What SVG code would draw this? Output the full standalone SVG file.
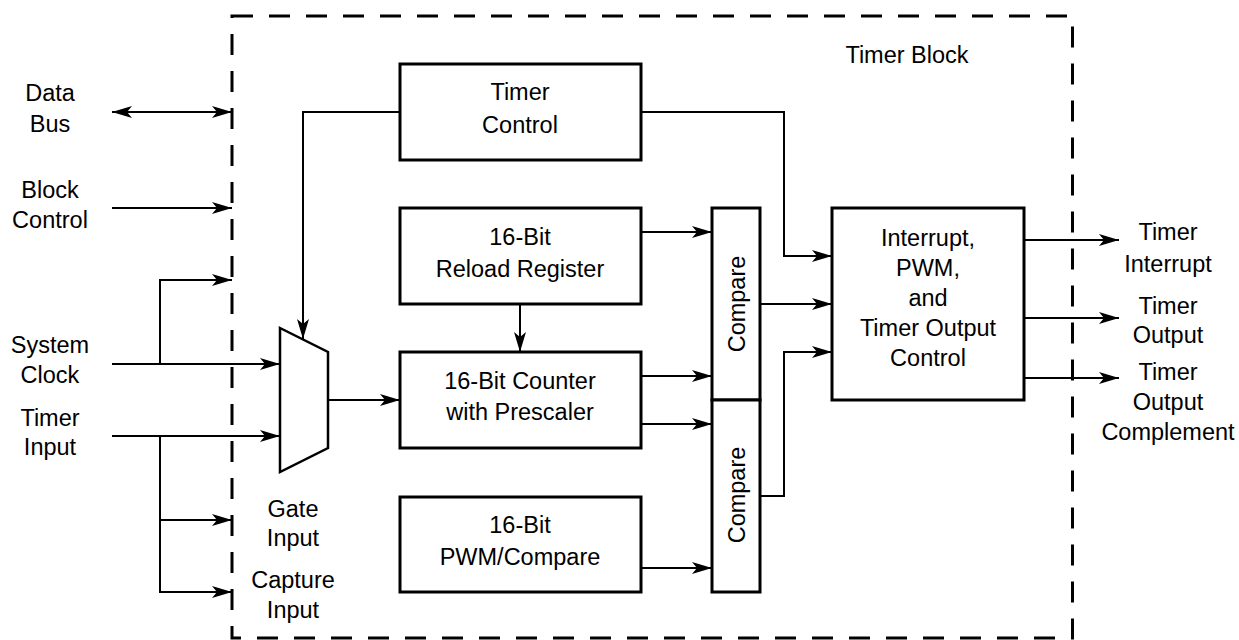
<svg xmlns="http://www.w3.org/2000/svg" width="1239" height="640" viewBox="0 0 1239 640">
<style>
  text { font-family: "Liberation Sans", Arial, sans-serif; font-size: 23.5px; fill: #000; text-anchor: middle; }
  .box { fill: #fff; stroke: #000; stroke-width: 3; }
  .mux { fill: #fff; stroke: #000; stroke-width: 2.5; stroke-linejoin: miter; }
  .conn path { fill: none; stroke: #000; stroke-width: 2; }
  .arr { marker-end: url(#ah); }
  .frame { fill: none; stroke: #000; stroke-width: 3; stroke-dasharray: 21 16; }
</style>
<defs>
  <marker id="ah" viewBox="0 0 20 12" refX="20" refY="6" markerWidth="20" markerHeight="12" markerUnits="userSpaceOnUse" orient="auto-start-reverse">
    <path d="M0,0 L20,6 L0,12 L5,6 z" fill="#000"/>
  </marker>
</defs>
<rect width="1239" height="640" fill="#fff"/>

<g id="timer-block">
  <rect class="frame" x="232" y="16" width="840.5" height="622"/>
  <text x="907" y="63">Timer Block</text>
</g>

<g id="ext-labels">
  <text x="50" y="101">Data</text>
  <text x="50" y="132">Bus</text>
  <text x="50" y="198">Block</text>
  <text x="50" y="228">Control</text>
  <text x="50" y="353">System</text>
  <text x="50" y="383">Clock</text>
  <text x="50" y="426">Timer</text>
  <text x="50" y="455">Input</text>
  <text x="293" y="517">Gate</text>
  <text x="293" y="546">Input</text>
  <text x="293" y="588">Capture</text>
  <text x="293" y="618">Input</text>
  <text x="1168" y="240">Timer</text>
  <text x="1168" y="272">Interrupt</text>
  <text x="1168" y="314">Timer</text>
  <text x="1168" y="343">Output</text>
  <text x="1168" y="380">Timer</text>
  <text x="1168" y="410">Output</text>
  <text x="1168" y="440">Complement</text>
</g>

<g id="timer-control">
  <rect class="box" x="400" y="64" width="241" height="96"/>
  <text x="520" y="100">Timer</text>
  <text x="520" y="133">Control</text>
</g>

<g id="reload-register">
  <rect class="box" x="400" y="208" width="241" height="96"/>
  <text x="520" y="245">16-Bit</text>
  <text x="520" y="277">Reload Register</text>
</g>

<g id="counter">
  <rect class="box" x="400" y="352" width="241" height="96"/>
  <text x="520" y="389">16-Bit Counter</text>
  <text x="520" y="420">with Prescaler</text>
</g>

<g id="pwm-compare">
  <rect class="box" x="400" y="497" width="241" height="95"/>
  <text x="520" y="533">16-Bit</text>
  <text x="520" y="565">PWM/Compare</text>
</g>

<g id="compare-upper">
  <rect class="box" x="712" y="208" width="48" height="192"/>
  <text transform="translate(745,304) rotate(-90)">Compare</text>
</g>

<g id="compare-lower">
  <rect class="box" x="712" y="400" width="48" height="192"/>
  <text transform="translate(745,495) rotate(-90)">Compare</text>
</g>

<g id="output-control">
  <rect class="box" x="832" y="208" width="192" height="192"/>
  <text x="928" y="246">Interrupt,</text>
  <text x="928" y="276">PWM,</text>
  <text x="928" y="306">and</text>
  <text x="928" y="336">Timer Output</text>
  <text x="928" y="366">Control</text>
</g>

<g id="mux">
  <polygon class="mux" points="280,328 328,352 328,448 280,472"/>
</g>

<g id="connectors" class="conn">
  <path d="M112,112 H232" marker-start="url(#ah)" marker-end="url(#ah)"/>
  <path class="arr" d="M112,208 H232"/>
  <path class="arr" d="M112,364 H280"/>
  <path class="arr" d="M160,364 V280 H232"/>
  <path class="arr" d="M112,436 H280"/>
  <path class="arr" d="M160,436 V592 H232"/>
  <path class="arr" d="M160,520 H232"/>
  <path class="arr" d="M400,112 H303 V339"/>
  <path class="arr" d="M328,400 H400"/>
  <path class="arr" d="M520,304 V352"/>
  <path class="arr" d="M641,232 H712"/>
  <path class="arr" d="M641,376 H712"/>
  <path class="arr" d="M641,424 H712"/>
  <path class="arr" d="M641,568 H712"/>
  <path class="arr" d="M641,112 H784 V256 H832"/>
  <path class="arr" d="M760,304 H832"/>
  <path class="arr" d="M760,496 H784 V352 H832"/>
  <path class="arr" d="M1024,240 H1119"/>
  <path class="arr" d="M1024,318 H1119"/>
  <path class="arr" d="M1024,378 H1119"/>
</g>
</svg>
